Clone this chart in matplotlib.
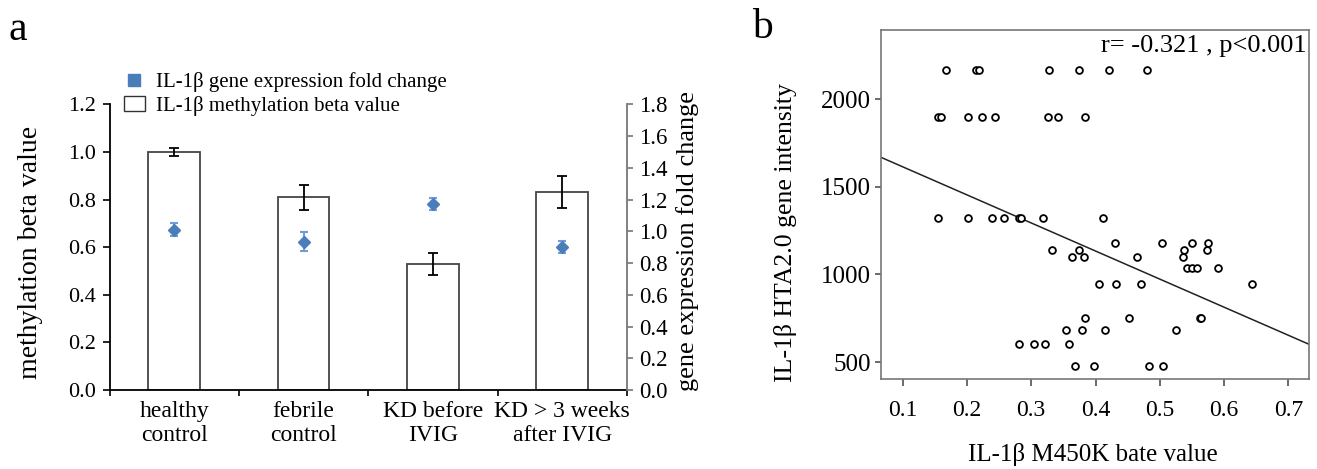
import numpy as np
import matplotlib
matplotlib.use("Agg")
import matplotlib.pyplot as plt
from matplotlib.patches import Patch
from matplotlib.lines import Line2D

plt.rcParams['font.family'] = ['Liberation Serif', 'DejaVu Serif']

# ---------------- Panel a data ----------------
categories = ["healthy\ncontrol", "febrile\ncontrol", "KD before\nIVIG", "KD > 3 weeks\nafter IVIG"]
methylation_beta = [1.00, 0.81, 0.53, 0.83]
methylation_err = [0.018, 0.052, 0.047, 0.067]
fold_change = [1.01, 0.935, 1.17, 0.90]
fold_change_err = [0.040, 0.060, 0.038, 0.036]
left_ticks = [0.0, 0.2, 0.4, 0.6, 0.8, 1.0, 1.2]
right_ticks = [0.0, 0.2, 0.4, 0.6, 0.8, 1.0, 1.2, 1.4, 1.6, 1.8]

# ---------------- Panel b data ----------------
m450k_beta = [
    0.168, 0.214, 0.219, 0.327, 0.374, 0.421, 0.480,
    0.155, 0.160, 0.201, 0.223, 0.243, 0.326, 0.342, 0.384,
    0.155, 0.202, 0.239, 0.258, 0.281, 0.284, 0.318, 0.411,
    0.430, 0.503, 0.550, 0.575,
    0.332, 0.374, 0.537, 0.574,
    0.364, 0.382, 0.464, 0.536,
    0.542, 0.550, 0.558, 0.590,
    0.405, 0.432, 0.471, 0.644,
    0.384, 0.452, 0.562, 0.564,
    0.354, 0.379, 0.414, 0.525,
    0.281, 0.304, 0.321, 0.359,
    0.368, 0.398, 0.484, 0.505,
]
hta_intensity = [
    2165, 2165, 2165, 2165, 2165, 2165, 2165,
    1900, 1900, 1900, 1900, 1900, 1900, 1900, 1900,
    1325, 1325, 1325, 1325, 1325, 1325, 1325, 1325,
    1180, 1180, 1180, 1180,
    1140, 1140, 1140, 1140,
    1100, 1100, 1100, 1100,
    1035, 1035, 1035, 1035,
    945, 945, 945, 945,
    750, 750, 750, 750,
    685, 685, 685, 685,
    605, 605, 605, 605,
    480, 480, 480, 480,
]
# reported linear fit (as drawn in the figure)
fit_intercept = 1775.0
fit_slope = -1603.0
b_xticks = [0.1, 0.2, 0.3, 0.4, 0.5, 0.6, 0.7]
b_yticks = [500, 1000, 1500, 2000]
stat_text = "r= -0.321 , p<0.001"

W, H = 1317, 469
fig = plt.figure(figsize=(W / 100, H / 100), dpi=100)

def frac(l, t, r, b):
    return [l / W, 1 - b / H, (r - l) / W, (b - t) / H]

BLUE = '#4a7ebb'

# ---------------- Panel a ----------------
ax = fig.add_axes(frac(109.5, 104.3, 627, 390))
x = np.arange(len(categories))
ax.bar(x, methylation_beta, width=0.4, color='white', edgecolor='#444444',
       linewidth=1.3, zorder=2)
ax.errorbar(x, methylation_beta, yerr=methylation_err, fmt='none', ecolor='black',
            elinewidth=1.3, capsize=3.5, capthick=1.3, zorder=3)
ax.set_xlim(-0.5, len(categories) - 0.5)
ax.set_ylim(0, 1.2)
ax.set_yticks(left_ticks)
ax.set_yticklabels([f"{v:.1f}" for v in left_ticks])
ax.set_xticks(np.arange(-0.5, len(categories), 1.0))
ax.set_xticklabels([])
ax.set_xticks(x, minor=True)
ax.set_xticklabels(categories, minor=True)
ax.tick_params(axis='x', which='minor', length=0, pad=8, labelsize=17)
ax.tick_params(axis='x', which='major', length=4, width=1.2, direction='out')
ax.tick_params(axis='y', length=5, width=1.2, direction='out', labelsize=16, pad=5)
for lab in ax.get_xticklabels(minor=True):
    lab.set_linespacing(1.2)
ax.spines['top'].set_visible(False)
ax.spines['right'].set_visible(False)
ax.spines['left'].set_linewidth(1.3)
ax.spines['bottom'].set_linewidth(1.3)
ax.set_ylabel("methylation beta value", fontsize=20)
ax.yaxis.set_label_coords(-0.128, 0.48)

ax2 = ax.twinx()
ax2.set_ylim(0, 1.8)
ax2.set_yticks(right_ticks)
ax2.set_yticklabels([f"{v:.1f}" for v in right_ticks])
ax2.errorbar(x, fold_change, yerr=fold_change_err, fmt='D', color=BLUE,
             ecolor='#6f9bd6', markersize=6.5, elinewidth=1.5, capsize=3,
             capthick=1.5, zorder=4)
for s in ['top', 'left', 'bottom']:
    ax2.spines[s].set_visible(False)
ax2.spines['right'].set_color('#777777')
ax2.spines['right'].set_linewidth(1.3)
ax2.tick_params(axis='y', length=4, width=1.2, color='#777777', direction='out',
                labelsize=16.5, pad=5)
ax2.set_ylabel("gene expression fold change", fontsize=19)
ax2.yaxis.set_label_coords(1.095, 0.52)

handles = [Line2D([], [], marker='s', linestyle='none', markersize=8.5,
                  markerfacecolor=BLUE, markeredgecolor=BLUE),
           Patch(facecolor='white', edgecolor='#333333', linewidth=1.0)]
labels = ["IL-1β gene expression fold change", "IL-1β methylation beta value"]
fig.legend(handles, labels, loc='upper left', bbox_to_anchor=(124 / W, 1 - 72 / H),
           frameon=False, fontsize=15, handlelength=1.0, handleheight=0.75,
           handletextpad=0.55, labelspacing=0.18, borderpad=0, borderaxespad=0)

fig.text(8 / W, 1 - 30 / H, "a", fontsize=30, va='center', ha='left')

# ---------------- Panel b ----------------
bx = fig.add_axes(frac(881, 30, 1309, 379))
bx.scatter(m450k_beta, hta_intensity, s=24, facecolors='white', edgecolors='black',
           linewidths=1.3, zorder=3)
bx.set_xlim(0.0662, 0.7322)
bx.set_ylim(403, 2396)
xl = np.array(bx.get_xlim())
bx.plot(xl, fit_intercept + fit_slope * xl, color='#222222', linewidth=1.1, zorder=2)
bx.set_xticks(b_xticks)
bx.set_xticklabels([f"{v:.1f}" for v in b_xticks])
bx.set_yticks(b_yticks)
bx.tick_params(axis='x', length=5, width=1.1, direction='out', labelsize=17,
               color='#444444', pad=10)
bx.tick_params(axis='y', length=4, width=1.1, direction='out', labelsize=18,
               color='#444444', pad=3)
for s in bx.spines.values():
    s.set_color('#777777')
    s.set_linewidth(1.2)
bx.text(0.995, 0.985, stat_text, transform=bx.transAxes, ha='right', va='top',
        fontsize=19)
bx.set_xlabel("IL-1β M450K bate value", fontsize=18)
bx.xaxis.set_label_coords(0.495, -0.183)
bx.set_ylabel("IL-1β HTA2.0 gene intensity", fontsize=18.5)
bx.yaxis.set_label_coords(-0.196, 0.42)

fig.text(752 / W, 1 - 28 / H, "b", fontsize=30, va='center', ha='left')

fig.savefig("out.png", dpi=100)
